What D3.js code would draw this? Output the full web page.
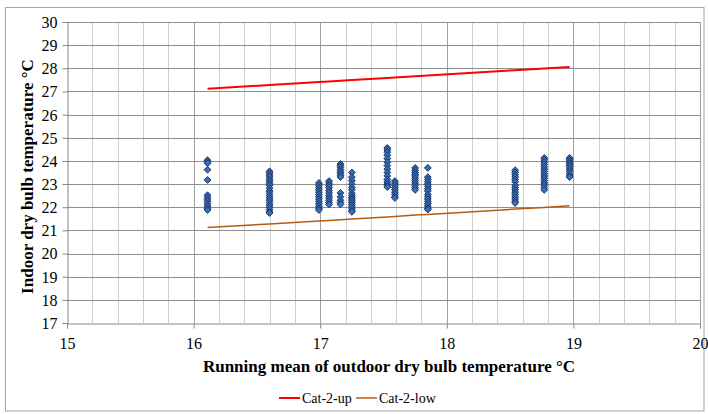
<!DOCTYPE html>
<html>
<head>
<meta charset="utf-8">
<script src="https://cdn.jsdelivr.net/npm/d3@7"></script>
<style>
  html, body { margin: 0; padding: 0; background: #fff; }
  svg, svg text { font-family: "Liberation Serif", "Times New Roman", serif; }
</style>
</head>
<body>
<svg id="chart" width="708" height="414"></svg>
<script>
// ---- data ----
const xTicks = [15, 16, 17, 18, 19, 20];
const yTicks = [17, 18, 19, 20, 21, 22, 23, 24, 25, 26, 27, 28, 29, 30];

const lineX  = [16.11, 16.6, 16.99, 17.07, 17.16, 17.25, 17.53, 17.59, 17.75, 17.85, 18.54, 18.77, 18.97];
const catUp  = [27.12, 27.28, 27.41, 27.43, 27.46, 27.49, 27.58, 27.60, 27.66, 27.69, 27.92, 27.99, 28.06];
const catLow = [21.12, 21.28, 21.41, 21.43, 21.46, 21.49, 21.58, 21.60, 21.66, 21.69, 21.92, 21.99, 22.06];

const clusterX = [16.11, 16.6, 16.99, 17.07, 17.16, 17.25, 17.53, 17.59, 17.75, 17.85, 18.54, 18.77, 18.97];
const c1  = [24.03, 23.97, 23.9, 23.62, 23.18, 22.52, 22.42, 22.33, 22.25, 22.15, 22.05, 21.95, 21.88];
const c2  = [23.55, 23.47, 23.38, 23.3, 23.2, 23.12, 23.03, 22.95, 22.82, 22.7, 22.6, 22.5, 22.4, 22.3, 22.2, 22.1, 22.0, 21.9, 21.8, 21.75];
const c3  = [23.05, 22.95, 22.85, 22.75, 22.65, 22.55, 22.45, 22.35, 22.25, 22.15, 22.05, 21.95, 21.88];
const c4  = [23.13, 23.05, 22.95, 22.85, 22.72, 22.62, 22.5, 22.4, 22.3, 22.2, 22.12];
const c5  = [23.87, 23.8, 23.72, 23.63, 23.55, 23.47, 23.38, 23.3, 22.62, 22.45, 22.3, 22.2, 22.12];
const c6  = [23.5, 23.3, 23.15, 23.0, 22.85, 22.75, 22.6, 22.5, 22.42, 22.35, 22.28, 22.2, 22.12, 22.05, 21.95, 21.85, 21.8];
const c7  = [24.56, 24.48, 24.38, 24.25, 24.1, 23.95, 23.8, 23.65, 23.5, 23.35, 23.2, 23.1, 23.0, 22.92, 22.87];
const c8  = [23.13, 23.05, 22.95, 22.85, 22.75, 22.65, 22.55, 22.45, 22.4];
const c9  = [23.7, 23.6, 23.5, 23.42, 23.35, 23.25, 23.15, 23.05, 22.95, 22.85, 22.75];
const c10 = [23.7, 23.3, 23.2, 23.1, 23.0, 22.9, 22.8, 22.7, 22.55, 22.45, 22.35, 22.25, 22.15, 22.05, 21.95, 21.9];
const c11 = [23.6, 23.5, 23.4, 23.3, 23.2, 23.1, 22.95, 22.85, 22.75, 22.65, 22.55, 22.45, 22.35, 22.25, 22.18];
const c12 = [24.13, 24.05, 23.95, 23.85, 23.75, 23.65, 23.55, 23.45, 23.35, 23.25, 23.15, 23.05, 22.95, 22.85, 22.75];
const c13 = [24.13, 24.05, 23.97, 23.9, 23.82, 23.75, 23.65, 23.55, 23.45, 23.35, 23.3];
const clusterTemps = [c1, c2, c3, c4, c5, c6, c7, c8, c9, c10, c11, c12, c13];

const legendLabels = ["Cat-2-up", "Cat-2-low"];

// ---- drawing ----
const FONT = "'Liberation Serif', 'Times New Roman', serif";
const svg = d3.select("#chart");
const W = 708, H = 414;
const plot = { left: 67, right: 700, top: 22, bottom: 323 };

const x = d3.scaleLinear().domain([15, 20]).range([plot.left, plot.right]);
const y = d3.scaleLinear().domain([17, 30]).range([plot.bottom, plot.top]);

// outer chart border
svg.append("rect")
  .attr("x", 5.5).attr("y", 7.5).attr("width", W - 4 - 5.5).attr("height", H - 3 - 7.5)
  .attr("fill", "#fff").attr("stroke", "#a6a6a6").attr("stroke-width", 1);

const g = svg.append("g");

// minor vertical gridlines (every 0.2)
const minor = d3.range(15.2, 20, 0.2).filter(v => Math.abs(v - Math.round(v)) > 0.01);
g.append("g").selectAll("line").data(minor).join("line")
  .attr("x1", d => Math.round(x(d)) + 0.5).attr("x2", d => Math.round(x(d)) + 0.5)
  .attr("y1", plot.top).attr("y2", plot.bottom)
  .attr("stroke", "#cfcfcf").attr("stroke-width", 1);

// major vertical gridlines
g.append("g").selectAll("line").data(xTicks.slice(1)).join("line")
  .attr("x1", d => Math.round(x(d)) + 0.5).attr("x2", d => Math.round(x(d)) + 0.5)
  .attr("y1", plot.top).attr("y2", plot.bottom)
  .attr("stroke", "#a0a0a0").attr("stroke-width", 1);

// horizontal gridlines
g.append("g").selectAll("line").data(yTicks.slice(1)).join("line")
  .attr("x1", plot.left).attr("x2", plot.right)
  .attr("y1", d => Math.round(y(d)) + 0.5).attr("y2", d => Math.round(y(d)) + 0.5)
  .attr("stroke", "#8f8f8f").attr("stroke-width", 1);

// axes
const xAxis = d3.axisBottom(x).tickValues(xTicks).tickSize(5).tickPadding(9).tickFormat(d3.format("d"));
const yAxis = d3.axisLeft(y).tickValues(yTicks).tickSize(5).tickPadding(5).tickFormat(d3.format("d"));

const gx = svg.append("g").attr("transform", `translate(0,${Math.round(y(17)) + 0.5})`).call(xAxis);
const gy = svg.append("g").attr("transform", `translate(${Math.round(x(15)) + 0.5},0)`).call(yAxis);
[gx, gy].forEach(a => {
  a.attr("font-family", null).attr("font-size", 16);
  a.select(".domain").attr("stroke", "#868686");
  a.selectAll(".tick line").attr("stroke", "#868686");
  a.selectAll(".tick text").attr("fill", "#000").style("font-family", FONT);
});
gy.selectAll(".tick text").attr("dy", "0.34em");

// lines
const lineGen = d3.line().x((d, i) => x(lineX[i])).y(d => y(d));
svg.append("path").datum(catLow).attr("d", lineGen)
  .attr("fill", "none").attr("stroke", "#b45c12").attr("stroke-width", 1.5);
svg.append("path").datum(catUp).attr("d", lineGen)
  .attr("fill", "none").attr("stroke", "#ff0000").attr("stroke-width", 2);

// points
const points = [];
clusterTemps.forEach((arr, i) => arr.forEach(t => points.push([clusterX[i], t])));
const r = 3.4;
svg.append("g").selectAll("path").data(points).join("path")
  .attr("d", d => {
    const cx = x(d[0]), cy = y(d[1]);
    return `M${cx},${cy - r}L${cx + r},${cy}L${cx},${cy + r}L${cx - r},${cy}Z`;
  })
  .attr("fill", "#3d6db3").attr("stroke", "#17386e").attr("stroke-width", 1);

// axis titles
svg.append("text")
  .attr("x", 389).attr("y", 372)
  .attr("text-anchor", "middle")
  .style("font-family", FONT).attr("font-size", 17).attr("font-weight", "bold")
  .text("Running mean of outdoor dry bulb temperature °C");

svg.append("text")
  .attr("transform", `translate(33,${(plot.top + plot.bottom) / 2 + 4}) rotate(-90)`)
  .attr("text-anchor", "middle")
  .style("font-family", FONT).attr("font-size", 17).attr("font-weight", "bold")
  .text("Indoor dry bulb temperature °C");

// legend
const legendColors = ["#ff0000", "#b45c12"];
const legendX = [279, 356];
const lg = svg.append("g");
legendLabels.forEach((lab, i) => {
  lg.append("line")
    .attr("x1", legendX[i]).attr("x2", legendX[i] + 21)
    .attr("y1", 398).attr("y2", 398)
    .attr("stroke", legendColors[i]).attr("stroke-width", i === 0 ? 2 : 1.5);
  lg.append("text")
    .attr("x", legendX[i] + 23).attr("y", 403)
    .style("font-family", FONT).attr("font-size", 14)
    .text(lab);
});
</script>
</body>
</html>
